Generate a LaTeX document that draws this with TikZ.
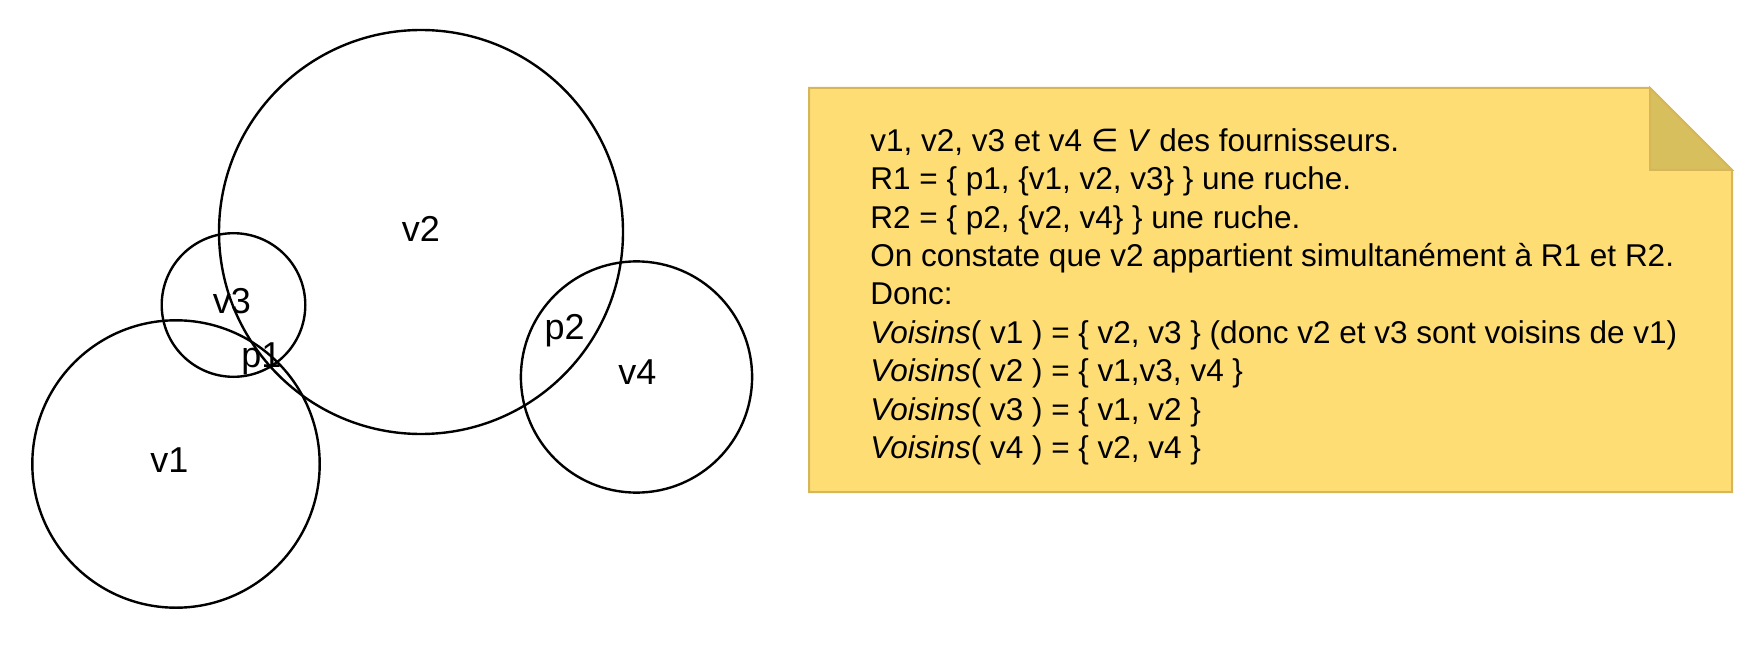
\documentclass[tikz,border=0pt]{standalone}
\usepackage{fontspec}
\setmainfont{Liberation Sans}
\newfontfamily\symfont{DejaVu Sans}
\usepackage{tikz}
\definecolor{color_note}{HTML}{FDDD74}
\definecolor{color_noteborder}{HTML}{D6B656}
\definecolor{color_fold}{HTML}{D8BF5E}

\begin{document}
\begin{tikzpicture}[x=0.5pt, y=-0.5pt]
  \tikzset{ % styles for the sets and the note
      ens/.style = {circle, draw=black, line width=1.2pt, inner sep=0pt},
      lab/.style = {inner sep=0pt, font=\fontsize{18}{20}\selectfont},
      note/.style = {fill=color_note, draw=color_noteborder, line width=1pt},
      fold/.style = {fill=color_fold, draw=color_noteborder, line width=1pt},
  }
  \useasboundingbox (0,0) rectangle (1760,668);
  % the sets
  \node (v1) [ens, minimum size=143.7pt] at (176,464) {};
  \node (v2) [ens, minimum size=202pt] at (421,232) {};
  \node (v3) [ens, minimum size=71.8pt] at (233.5,305) {};
  \node (v4) [ens, minimum size=115.6pt] at (636.5,377) {};
  \node (v1l) [lab] at (169.5,460) {v1};
  \node (v2l) [lab] at (421,229) {v2};
  \node (v3l) [lab] at (232,301) {v3};
  \node (v4l) [lab] at (637.5,372.6) {v4};
  \node (p1l) [lab] at (261.5,359) {p1};
  \node (p2l) [lab] at (564.6,331) {p2};
  % the note
  \coordinate (nw) at (809,88);
  \coordinate (nf) at (1650,88);
  \coordinate (ne) at (1732,170);
  \coordinate (nk) at (1650,170);
  \coordinate (se) at (1732,492);
  \coordinate (sw) at (809,492);
  \draw[note] (nw) -- (nf) -- (ne) -- (se) -- (sw) -- cycle;
  \draw[fold] (nf) -- (nk) -- (ne) -- cycle;
  \node (txt) [anchor=north west, align=left, inner sep=0pt, font=\fontsize{15.75}{19.2}\selectfont] at (870,128)
  {v1, v2, v3 et v4 {\symfont ∈} \textit{V} des fournisseurs.\\
   R1 = \{ p1, \{v1, v2, v3\} \} une ruche.\\
   R2 = \{ p2, \{v2, v4\} \} une ruche.\\
   On constate que v2 appartient simultanément à R1 et R2.\\
   Donc:\\
   \textit{Voisins}( v1 ) = \{ v2, v3 \} (donc v2 et v3 sont voisins de v1)\\
   \textit{Voisins}( v2 ) = \{ v1,v3, v4 \}\\
   \textit{Voisins}( v3 ) = \{ v1, v2 \}\\
   \textit{Voisins}( v4 ) = \{ v2, v4 \}};
\end{tikzpicture}
\end{document}
